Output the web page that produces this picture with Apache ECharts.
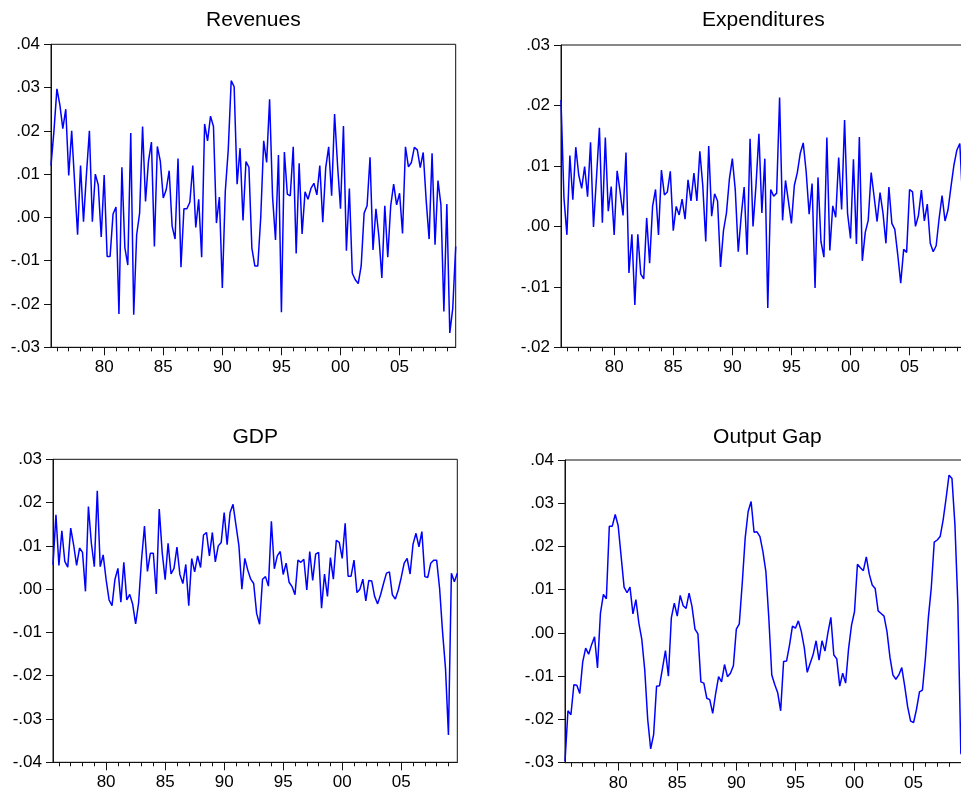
<!DOCTYPE html>
<html>
<head>
<meta charset="utf-8">
<script src="https://cdn.jsdelivr.net/npm/echarts@6/dist/echarts.min.js"></script>
<style>
html,body{margin:0;padding:0;background:#fff;}
#chart{width:961px;height:801px;}
</style>
</head>
<body>
<div id="chart"></div>
<script>
// Quarterly observations 1975Q3 .. 2009Q4
const START_YEAR = 1975, START_Q = 3, N_OBS = 138;
const quarters = [];
for (let k = 0; k < N_OBS; k++) {
  const q = (START_Q - 1 + k) % 4 + 1;
  const y = START_YEAR + Math.floor((START_Q - 1 + k) / 4);
  quarters.push(y + 'Q' + q);
}
const labelYears = [1980, 1985, 1990, 1995, 2000, 2005];
const labelText = ['80', '85', '90', '95', '00', '05'];

const titles = ['Revenues', 'Expenditures', 'GDP', 'Output Gap'];

const revenues = [
0.012, 0.020, 0.0297, 0.026, 0.0205, 0.025, 0.0097, 0.020, 0.008, -0.004,
0.012, -0.001, 0.010, 0.020, -0.001, 0.010, 0.0075, -0.0045, 0.0098, -0.009,
-0.009, 0.0008, 0.0024, -0.0223, 0.0116, -0.007, -0.011, 0.0195, -0.0225, -0.004,
0.001, 0.021, 0.0037, 0.013, 0.0174, -0.0067, 0.0164, 0.013, 0.0045, 0.0064,
0.0108, -0.002, -0.005, 0.0136, -0.0115, 0.002, 0.002, 0.0035, 0.012, -0.0023,
0.0042, -0.0092, 0.0216, 0.0177, 0.0234, 0.021, -0.0013, 0.0047, -0.0163, 0.006,
0.0156, 0.0316, 0.0302, 0.0077, 0.016, -0.0007, 0.0129, 0.0116, -0.0071, -0.0112,
-0.0112, 0.0, 0.0177, 0.0127, 0.0273, 0.0048, -0.0052, 0.0144, -0.0219, 0.0151,
0.0054, 0.005, 0.0163, -0.0083, 0.0125, -0.0038, 0.0059, 0.0042, 0.0067, 0.0079,
0.0052, 0.012, -0.0011, 0.0115, 0.0163, 0.005, 0.0239, 0.0121, 0.002, 0.0211,
-0.0077, 0.0067, -0.0129, -0.0144, -0.0153, -0.0112, 0.001, 0.0027, 0.0139, -0.0075,
0.002, -0.0044, -0.014, 0.0027, -0.0092, 0.0027, 0.0077, 0.0029, 0.0056, -0.0037,
0.0163, 0.0117, 0.0127, 0.0162, 0.0156, 0.0115, 0.015, 0.004, -0.005, 0.0148,
-0.0063, 0.0085, 0.0029, -0.0217, 0.0031, -0.0267, -0.021, -0.0067
];

const expenditures = [
0.0209, 0.0047, -0.0014, 0.0117, 0.0044, 0.0131, 0.0085, 0.0063, 0.0099, 0.0049,
0.0139, -0.0001, 0.008, 0.0163, 0.0006, 0.0147, 0.0025, 0.0066, -0.0014, 0.0092,
0.0058, 0.0018, 0.0122, -0.0077, -0.0013, -0.013, -0.0013, -0.0079, -0.0087, 0.0014,
-0.0061, 0.0033, 0.0061, -0.0014, 0.0093, 0.0052, 0.0057, 0.0091, -0.0007, 0.0033,
0.0019, 0.0045, 0.0012, 0.0077, 0.0042, 0.0088, 0.0042, 0.0124, 0.0067, -0.0025,
0.0133, 0.0017, 0.0054, 0.0042, -0.0067, -0.0007, 0.0022, 0.0078, 0.0112, 0.006,
-0.0042, 0.0017, 0.0065, -0.0047, 0.0145, 0.0, 0.0067, 0.0153, 0.0022, 0.0112,
-0.0135, 0.0061, 0.005, 0.0055, 0.0213, 0.001, 0.0076, 0.0041, 0.0005, 0.0068,
0.0089, 0.0121, 0.0138, 0.009, 0.002, 0.0071, -0.0102, 0.0081, -0.0025, -0.0051,
0.0147, -0.004, 0.0034, 0.0015, 0.0114, 0.0028, 0.0176, 0.0022, -0.002, 0.0111,
-0.0029, 0.0148, -0.0057, -0.001, 0.001, 0.0089, 0.0049, 0.0008, 0.0056, 0.0022,
-0.0028, 0.0065, 0.0005, -0.0005, -0.0047, -0.0094, -0.0038, -0.0043, 0.0061, 0.0057,
0.0, 0.0018, 0.006, 0.0009, 0.0037, -0.0028, -0.0042, -0.0032, 0.0013, 0.0051,
0.0009, 0.0027, 0.0065, 0.0101, 0.0126, 0.0137, 0.004, 0.006
];

const gdp = [
0.0056, 0.0172, 0.0055, 0.0135, 0.0064, 0.0051, 0.0141, 0.0102, 0.0055, 0.0095,
0.0085, -0.0005, 0.0191, 0.0106, 0.0052, 0.0227, 0.0052, 0.0079, 0.0022, -0.0025,
-0.0038, 0.0023, 0.0048, -0.003, 0.0062, -0.0025, -0.0012, -0.0035, -0.008, -0.0032,
0.0068, 0.0146, 0.0041, 0.0083, 0.0083, -0.0011, 0.0185, 0.0085, 0.0022, 0.0106,
0.0035, 0.0048, 0.0097, 0.0034, 0.0013, 0.0057, -0.0038, 0.0071, 0.004, 0.0077,
0.005, 0.0125, 0.0131, 0.0077, 0.0131, 0.0063, 0.01, 0.0108, 0.0177, 0.0103,
0.0177, 0.0196, 0.0148, 0.01, 0.0, 0.0071, 0.0044, 0.0023, 0.0013, -0.0056,
-0.0081, 0.0023, 0.0029, 0.0007, 0.0157, 0.0047, 0.0077, 0.0087, 0.0034, 0.006,
0.0016, 0.0006, -0.0013, 0.0067, 0.0062, 0.0069, -0.0002, 0.0087, 0.002, 0.0081,
0.0085, -0.0044, 0.0035, -0.0017, 0.0073, 0.0023, 0.0113, 0.0108, 0.0071, 0.0152,
0.003, 0.003, 0.0067, -0.0008, 0.0, 0.0023, -0.0027, 0.002, 0.0019, -0.0017,
-0.0034, -0.0013, 0.0013, 0.0037, 0.004, -0.0013, -0.0023, -0.0002, 0.0027, 0.006,
0.0071, 0.0035, 0.0104, 0.0129, 0.0098, 0.0133, 0.0029, 0.0027, 0.006, 0.0067,
0.0067, 0.0002, -0.0098, -0.0183, -0.0337, 0.0037, 0.0017, 0.0037
];

const outputGap = [
-0.0297, -0.018, -0.0189, -0.012, -0.0121, -0.014, -0.0067, -0.0035, -0.0049, -0.0027,
-0.0009, -0.0081, 0.0046, 0.0089, 0.0079, 0.0247, 0.0247, 0.0274, 0.0248, 0.0177,
0.0106, 0.0093, 0.0106, 0.0044, 0.0077, 0.0023, -0.0015, -0.0086, -0.02, -0.0268,
-0.0235, -0.0123, -0.0122, -0.0082, -0.0041, -0.01, 0.0035, 0.0069, 0.0039, 0.0087,
0.0063, 0.0057, 0.0092, 0.0061, 0.0009, -0.0002, -0.0113, -0.0116, -0.0151, -0.0154,
-0.0186, -0.014, -0.0101, -0.0113, -0.0073, -0.0101, -0.0093, -0.0076, 0.0009, 0.0021,
0.0115, 0.022, 0.0281, 0.0304, 0.0233, 0.0234, 0.0223, 0.0188, 0.0142, 0.0034,
-0.0097, -0.0119, -0.0138, -0.018, -0.0066, -0.0065, -0.0028, 0.0016, 0.0011, 0.0028,
0.0003, -0.0034, -0.0091, -0.007, -0.005, -0.0018, -0.0063, -0.0018, -0.0042, 0.0,
0.0036, -0.0051, -0.006, -0.0123, -0.0093, -0.0116, -0.0036, 0.0018, 0.0049, 0.0159,
0.0151, 0.0144, 0.0176, 0.0136, 0.0111, 0.0103, 0.0051, 0.0045, 0.0039, 0.0003,
-0.0056, -0.0097, -0.0107, -0.0097, -0.008, -0.0123, -0.0171, -0.0204, -0.0207, -0.0176,
-0.0136, -0.0132, -0.0059, 0.0035, 0.0105, 0.021, 0.0215, 0.0223, 0.0261, 0.0311,
0.0365, 0.0357, 0.025, 0.0065, -0.0278, -0.029, -0.027, -0.024
];

// y-axis ranges [min, max] per panel, step 0.01
const yMin = [-0.03, -0.02, -0.04, -0.03];
const yMax = [0.04, 0.03, 0.03, 0.04];
const yStep = 0.01;

const seriesData = [revenues, expenditures, gdp, outputGap];

// layout (pixels)
const grids = [
  {left: 51,  top: 44.3,  width: 404.7, height: 303},
  {left: 561, top: 45,    width: 404.7, height: 302.3},
  {left: 53,  top: 459.3, width: 404.3, height: 303},
  {left: 565, top: 460,   width: 404.7, height: 302.7}
];
const titleY = [20, 20, 437, 437];

const FONT = 'Liberation Sans, Arial, Helvetica, sans-serif';
const isQ1 = (v) => v.slice(4) === 'Q1';
const isLabelQ = (v) => isQ1(v) && labelYears.indexOf(+v.slice(0, 4)) >= 0;
const fmtY = (v) => {
  let s = (Math.round(v * 100) / 100).toFixed(2);
  s = s.replace('0.', '.');
  return s;
};

const xAxes = [], yAxes = [], series = [], graphics = [];
for (let p = 0; p < 4; p++) {
  // major axis with labels
  xAxes.push({
    type: 'category', gridIndex: p, data: quarters, boundaryGap: false, position: 'bottom',
    axisLine: {show: true, onZero: false, lineStyle: {color: '#111', width: 1}},
    axisTick: {show: true, inside: false, length: 8, lineStyle: {color: '#111', width: 1},
      interval: (i, v) => isLabelQ(v)},
    axisLabel: {show: true, interval: (i, v) => isLabelQ(v),
      formatter: (v) => labelText[labelYears.indexOf(+v.slice(0, 4))],
      color: '#000', fontSize: 17, fontFamily: FONT, margin: 12},
    splitLine: {show: false}
  });
  // minor yearly ticks
  xAxes.push({
    type: 'category', gridIndex: p, data: quarters, boundaryGap: false, position: 'bottom',
    axisLine: {show: false, onZero: false},
    axisTick: {show: true, inside: false, length: 4, lineStyle: {color: '#111', width: 1},
      interval: (i, v) => isQ1(v)},
    axisLabel: {show: false},
    splitLine: {show: false}
  });
  yAxes.push({
    type: 'value', gridIndex: p, min: yMin[p], max: yMax[p], interval: yStep,
    axisLine: {show: true, onZero: false, lineStyle: {color: '#111', width: 1}},
    axisTick: {show: true, inside: false, length: 7, lineStyle: {color: '#111', width: 1}},
    axisLabel: {formatter: fmtY, color: '#000', fontSize: 17, fontFamily: FONT, margin: 11},
    splitLine: {show: false}
  });
  series.push({
    type: 'line', xAxisIndex: 2 * p, yAxisIndex: p, data: seriesData[p],
    showSymbol: false, symbol: 'none', clip: true,
    lineStyle: {color: '#0000ff', width: 1.5},
    animation: false
  });
  graphics.push({
    type: 'text', x: grids[p].left + grids[p].width / 2, y: titleY[p],
    style: {text: titles[p], fill: '#000', font: '21px ' + FONT,
      textAlign: 'center', textVerticalAlign: 'middle'}
  });
}

const chart = echarts.init(document.getElementById('chart'), null, {renderer: 'canvas'});
chart.setOption({
  backgroundColor: '#fff',
  animation: false,
  grid: grids.map(g => Object.assign({show: true, borderColor: '#111', borderWidth: 1,
    containLabel: false, outerBoundsMode: 'none'}, g)),
  xAxis: xAxes,
  yAxis: yAxes,
  series: series,
  graphic: graphics
});
</script>
</body>
</html>
